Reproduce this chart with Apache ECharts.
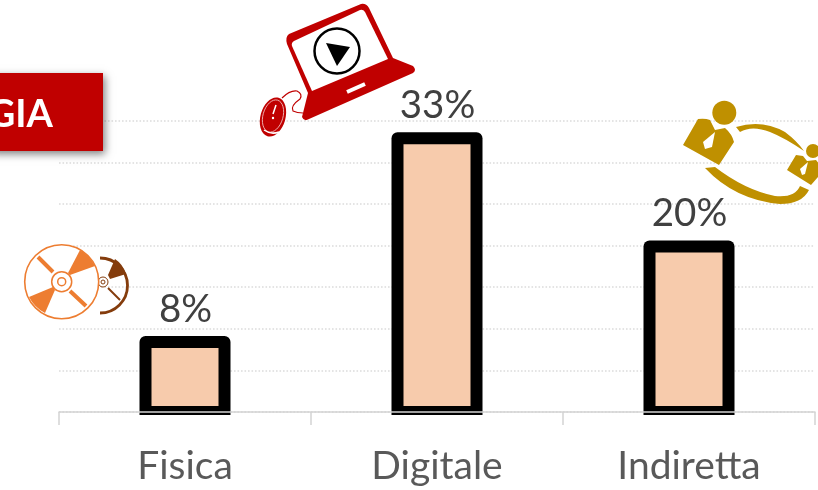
<!DOCTYPE html>
<html><head><meta charset="utf-8">
<style>html,body{margin:0;padding:0;background:#fff;overflow:hidden}#c{width:818px;height:490px}</style>
<script src="https://cdn.jsdelivr.net/npm/echarts@6/dist/echarts.min.js"></script>
</head><body><div id="c"></div>
<script>
const categories = ['Fisica','Digitale','Indiretta'];
const shares = [8.4,32.9,19.9];
const yTicks = [0,35,5];
const bannerText = 'GIA';
const chart = echarts.init(document.getElementById('c'),null,{renderer:'canvas'});
const RED='#C00000',OR='#ED7D31',BR='#843C0C',GOLD='#BF9000';
let shapeCount=0;
function fixPath(d,fill,stroke,lw){
  const name='iconShape'+(shapeCount++);
  echarts.graphic.registerShape(name,echarts.graphic.extendPath(d));
  return {type:name,z:10,silent:true,shape:{},style:{fill:fill||'none',stroke:stroke||null,lineWidth:lw||0}};
}
const circle=(cx,cy,r,fill,stroke,lw)=>({type:'circle',z:10,silent:true,shape:{cx,cy,r},style:{fill:fill||'none',stroke:stroke||null,lineWidth:lw||0}});
const icons=[
 // laptop
 fixPath('M289 34 L361 4 Q366 3 369 8 L393 58 L413 66 Q417 70 413 73 L309 119 Q304 122 302 117 L308 93 L287 44 Q285 37 289 34 Z',RED),
 fixPath('M294 41 Q291 43 292 46 L312 91 L388 59 L365 12 Q363 9 360 10 Z','#fff'),
 fixPath('M347 92 L365 84',null,'#fff',4),
 circle(337,51,22.5,'#fff','#000',2.5),
 fixPath('M326 43 L350 47 L337 66 Z','#000'),
 // mouse
 {type:'ellipse',z:10,silent:true,shape:{cx:273,cy:117,rx:12.5,ry:20},rotation:-0.28,originX:273,originY:117,style:{fill:RED}},
 {type:'ellipse',z:10,silent:true,shape:{cx:273,cy:116,rx:10,ry:16.5},rotation:-0.28,originX:273,originY:116,style:{fill:'none',stroke:'#F2C4C4',lineWidth:0.8}},
 fixPath('M282 98 Q290 90 297 91 Q303 94 300 99 Q290 106 293 111 Q297 113 303 113',null,RED,1.2),
 fixPath('M276 105 L273 114 M264 130 Q271 135 279 132',null,'#fff',1.5),
 circle(273,118,1.2,'#fff'),
 // discs
 fixPath('M100 258 A27 27 0 0 1 100 313',null,BR,2.8),
 fixPath('M108 275 L115 259 A27 27 0 0 1 126 274 L110 279 Z',BR),
 fixPath('M108 288 L120 300',null,BR,2),
 circle(103,282,5,'#fff',BR,1),
 circle(103,282,2,'#fff',BR,1),
 circle(61.7,281.7,37,'#fff',OR,1.6),
 fixPath('M68 273 L80 250 A37 37 0 0 1 95 266 L70 275 Z',OR),
 fixPath('M53 287 L29 297 A37 37 0 0 0 45 313 L55 290 Z',OR),
 fixPath('M53 272 L38 257 M70 291 L86 306',null,OR,4),
 circle(61.7,281.7,10,'#fff',OR,1.5),
 circle(61.7,281.7,4,'#fff',OR,1.5),
 // people
 circle(724.3,112.7,12,GOLD),
 fixPath('M698 119 Q705 118 710 120 L715 130 L725 128 Q732 134 734 142 L719 165 L683 145 Z',GOLD),
 fixPath('M715 132 L703 142 L705 149 L712 147 Z','#fff'),
 circle(813,151,7,GOLD),
 fixPath('M796 155 L803 156 L807 161 L816 160 L824 170 L811 185 L787 170 Z',GOLD),
 fixPath('M808 162 L800 169 L802 175 L805 174 Z','#fff'),
 fixPath('M736 127 Q762 119 785 132 Q797 141 804 151 Q785 138 770 132 Q752 125 740 132 Z',GOLD),
 fixPath('M705 168 L715 167 Q745 190 775 196 Q795 198 800 186 L809 190 Q802 204 780 204 Q735 200 705 168 Z',GOLD),
];
const banner=[
 {type:'rect',z:9,silent:true,shape:{x:-10,y:73,width:113,height:78},style:{fill:RED,shadowBlur:8,shadowColor:'rgba(0,0,0,0.5)',shadowOffsetX:2,shadowOffsetY:3}},
 {type:'text',z:11,silent:true,x:53,y:115,style:{text:bannerText,fill:'#fff',font:'bold 38px Lato',textAlign:'right',textVerticalAlign:'middle'}}
];
const barW=79, bord=12;
function renderBar(params,api){
 const p=api.coord([api.value(0),api.value(1)]);
 const base=api.coord([api.value(0),0]);
 const x=p[0]-barW/2, y=p[1];
 return {type:'group',children:[
  {type:'rect',shape:{x:x-bord/2,y:y-bord/2,width:barW+bord,height:base[1]+3-y+bord/2,r:[6,6,0,0]},style:{fill:'#000'}},
  {type:'rect',shape:{x:x+bord/2,y:y+bord/2,width:barW-bord,height:base[1]-y-bord},style:{fill:'#F7CBAC'}},
  {type:'text',x:p[0]+0.5,y:y-bord/2-7,style:{text:Math.round(api.value(1))+'%',fill:'#404040',font:'38.5px Lato',textAlign:'center',textVerticalAlign:'bottom'}}
 ]};
}
chart.setOption({
 animation:false,
 grid:{left:59,right:3,top:120.7,bottom:78},
 xAxis:{type:'category',data:categories,z:3,
  axisLine:{lineStyle:{color:'#D4D4D4',width:1.5}},
  axisTick:{show:true,alignWithLabel:false,length:13,lineStyle:{color:'#D4D4D4',width:1.5}},
  axisLabel:{color:'#595959',fontFamily:'Lato',fontSize:39,margin:35}},
 yAxis:{type:'value',min:yTicks[0],max:yTicks[1],interval:yTicks[2],axisLine:{show:false},axisTick:{show:false},axisLabel:{show:false},
  splitLine:{lineStyle:{color:'#DCDCDC',type:[1.6,1.9],width:1.6}}},
 series:[{type:'custom',renderItem:renderBar,clip:false,z:2,encode:{x:0,y:1},
  data:categories.map((c,i)=>[i,shares[i]])}],
 graphic:{elements:[...icons,...banner]}
});
</script></body></html>
